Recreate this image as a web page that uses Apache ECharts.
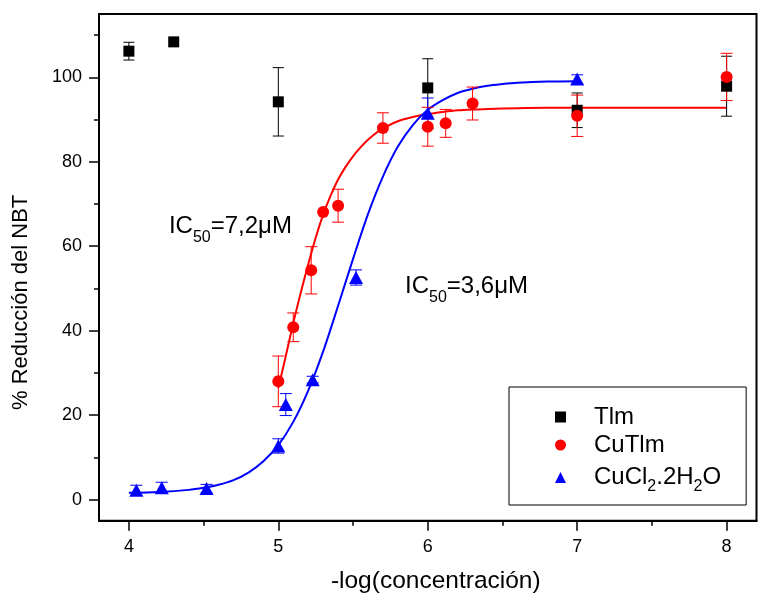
<!DOCTYPE html>
<html><head><meta charset="utf-8">
<script src="https://cdn.jsdelivr.net/npm/echarts@6/dist/echarts.min.js"></script>
<style>html,body{margin:0;padding:0;background:#fff}#c{width:760px;height:595px}</style>
</head><body><div id="c"></div>
<script>
// ---- tick labels / ticks ----
const xMajorTicks = [4, 5, 6, 7, 8];
const xMinorTicks = [4.5, 5.5, 6.5, 7.5];
const yMajorTicks = [0, 20, 40, 60, 80, 100];
const yMinorTicks = [10, 30, 50, 70, 90, 110];

// ---- series names ----
const seriesNames = ['Tlm', 'CuTlm', 'CuCl2.2H2O'];

// ---- Tlm (black squares) ----
const tlmX   = [4.0, 4.3, 5.0, 6.0, 7.0, 8.0];
const tlmY   = [106.2, 108.4, 94.2, 97.5, 92.2, 97.9];
const tlmErr = [2.1, 0, 8.1, 6.9, 4.1, 7.1];

// ---- CuTlm (red circles) ----
const cuTlmX   = [5.0, 5.1, 5.22, 5.3, 5.4, 5.7, 6.0, 6.12, 6.3, 7.0, 8.0];
const cuTlmY   = [28.0, 40.8, 54.3, 68.1, 69.6, 88.0, 88.3, 89.1, 93.8, 90.9, 100.1];
const cuTlmErr = [6.0, 3.4, 5.6, 0, 3.9, 3.6, 4.6, 3.3, 3.9, 4.9, 5.6];

// ---- CuCl2.2H2O (blue triangles) ----
const cuCl2X   = [4.05, 4.22, 4.52, 5.0, 5.05, 5.23, 5.52, 6.0, 7.0];
const cuCl2Y   = [2.2, 2.8, 2.6, 12.7, 22.5, 28.4, 52.6, 91.5, 99.6];
const cuCl2Err = [1.2, 1.3, 1.0, 1.7, 2.6, 0.8, 1.8, 3.6, 1.0];

// ---- fitted curves ----
const cuTlmFitX = [5.0, 5.05, 5.1, 5.15, 5.2, 5.25, 5.3, 5.35, 5.4, 5.45, 5.5, 5.55, 5.6, 5.65, 5.7, 5.8, 5.9, 6.0, 6.1, 6.2, 6.3, 6.4, 6.6, 6.8, 7.0, 7.5, 8.0];
const cuTlmFitY = [26.4, 34.0, 41.8, 49.0, 55.7, 62.0, 67.5, 72.0, 75.8, 78.8, 81.3, 83.4, 85.2, 86.7, 87.9, 89.6, 90.6, 91.3, 91.8, 92.2, 92.4, 92.5, 92.7, 92.8, 92.8, 92.8, 92.8];
const cuCl2FitX = [4.0, 4.2, 4.4, 4.5, 4.6, 4.7, 4.8, 4.9, 5.0, 5.1, 5.2, 5.3, 5.4, 5.5, 5.6, 5.7, 5.8, 5.9, 6.0, 6.1, 6.2, 6.3, 6.4, 6.5, 6.6, 6.8, 7.0];
const cuCl2FitY = [1.6, 1.8, 2.3, 2.8, 3.5, 4.6, 6.4, 9.1, 12.9, 18.4, 25.8, 35.1, 45.9, 57.0, 67.6, 76.5, 83.6, 88.7, 92.3, 94.6, 96.3, 97.3, 98.0, 98.4, 98.7, 99.0, 99.1];

// ---- annotations (left edge / vertical centre, in data units) ----
const ic50Labels = [
  {sub: '50', value: '=7,2μM', x: 4.268, y: 64.7},
  {sub: '50', value: '=3,6μM', x: 5.848, y: 50.5}
];

const FONT = '"Liberation Sans", Arial, sans-serif';
const zip = (xs, ys) => xs.map((x, i) => [x, ys[i]]);
const errData = (xs, ys, es) => xs.map((x, i) => [x, ys[i] - es[i], ys[i] + es[i], es[i]]).filter(d => d[3] > 0);

function errSeries(name, xs, ys, es, color, capW, z) {
  return {
    type: 'custom', name: name, xAxisIndex: 0, yAxisIndex: 0, z: z, silent: true,
    data: errData(xs, ys, es),
    encode: {x: 0, y: [1, 2]},
    renderItem: function (params, api) {
      const x = api.value(0);
      const lo = api.coord([x, api.value(1)]);
      const hi = api.coord([x, api.value(2)]);
      const h = capW / 2;
      const st = {stroke: color, lineWidth: 1};
      return {type: 'group', children: [
        {type: 'line', shape: {x1: lo[0], y1: lo[1], x2: hi[0], y2: hi[1]}, style: st},
        {type: 'line', shape: {x1: lo[0] - h, y1: lo[1], x2: lo[0] + h, y2: lo[1]}, style: st},
        {type: 'line', shape: {x1: hi[0] - h, y1: hi[1], x2: hi[0] + h, y2: hi[1]}, style: st}
      ]};
    }
  };
}

const chart = echarts.init(document.getElementById('c'), null, {renderer: 'canvas'});

const richMain = {fontSize: 24, lineHeight: 26, fontFamily: FONT, color: '#000'};
const richFirst = {fontSize: 24, lineHeight: 26, fontFamily: FONT, color: '#000', padding: [0, 0, 0, 23]};
const richSub = {fontSize: 16, lineHeight: 26, fontFamily: FONT, color: '#000', padding: [19, 0, 0, 0]};

const option = {
  animation: false,
  backgroundColor: '#fff',
  textStyle: {fontFamily: FONT},
  grid: {left: 99, top: 14, width: 657.5, height: 506.7, show: true, borderColor: '#000', borderWidth: 2,
         backgroundColor: 'transparent', containLabel: false, outerBoundsMode: 'none'},
  xAxis: [
    {
      type: 'value', min: 3.8, max: 8.2, position: 'bottom',
      name: '-log(concentración)', nameLocation: 'middle', nameGap: 48,
      nameTextStyle: {fontSize: 24.5, color: '#000', fontFamily: FONT, padding: [0, 0, 0, 16]},
      axisLine: {show: true, onZero: false, lineStyle: {color: '#000', width: 2}},
      axisTick: {show: true, customValues: xMajorTicks, length: 10, lineStyle: {color: '#000', width: 1.5}},
      axisLabel: {customValues: xMajorTicks, fontSize: 18, color: '#000', margin: 17, fontFamily: FONT},
      splitLine: {show: false}
    },
    {
      type: 'value', min: 3.8, max: 8.2, position: 'bottom', offset: 0,
      axisLine: {show: false, onZero: false},
      axisTick: {show: true, customValues: xMinorTicks, length: 5, lineStyle: {color: '#000', width: 1.5}},
      axisLabel: {show: false},
      splitLine: {show: false}
    }
  ],
  yAxis: [
    {
      type: 'value', min: -5, max: 115, position: 'left',
      name: '% Reducción del NBT', nameLocation: 'middle', nameGap: 67,
      nameTextStyle: {fontSize: 22, color: '#000', fontFamily: FONT, padding: [0, 70, 0, 0]},
      axisLine: {show: true, onZero: false, lineStyle: {color: '#000', width: 2}},
      axisTick: {show: true, customValues: yMajorTicks, length: 10, lineStyle: {color: '#000', width: 1.5}},
      axisLabel: {customValues: yMajorTicks, fontSize: 18, color: '#000', margin: 17, fontFamily: FONT},
      splitLine: {show: false}
    },
    {
      type: 'value', min: -5, max: 115, position: 'left', offset: 0,
      axisLine: {show: false, onZero: false},
      axisTick: {show: true, customValues: yMinorTicks, length: 5, lineStyle: {color: '#000', width: 1.5}},
      axisLabel: {show: false},
      splitLine: {show: false}
    }
  ],
  legend: {
    orient: 'vertical', left: 509, top: 387,
    data: [
      {name: seriesNames[0], icon: 'rect', itemStyle: {color: '#000', opacity: 1}},
      {name: seriesNames[1], icon: 'circle', itemStyle: {color: '#ff0000', opacity: 1}},
      {name: seriesNames[2], icon: 'triangle', itemStyle: {color: '#0000ff', opacity: 1}}
    ],
    itemWidth: 11, itemHeight: 11, itemGap: 2,
    padding: [17, 25, 10, 46],
    borderColor: '#000', borderWidth: 1,
    selectedMode: false,
    textStyle: {fontSize: 24, color: '#000', fontFamily: FONT, lineHeight: 26, rich: {f: richFirst, n: richMain, s: richSub}},
    formatter: function (name) {
      if (name === 'CuCl2.2H2O') return '{f|CuCl}{s|2}{n|.2H}{s|2}{n|O}';
      return '{f|' + name + '}';
    }
  },
  series: [
    {type: 'line', name: 'CuTlm fit', data: zip(cuTlmFitX, cuTlmFitY), smooth: 0.3, showSymbol: false, silent: true,
     lineStyle: {color: '#ff0000', width: 2}, itemStyle: {color: '#ff0000'}, z: 2},
    {type: 'line', name: 'CuCl2 fit', data: zip(cuCl2FitX, cuCl2FitY), smooth: 0.3, showSymbol: false, silent: true,
     lineStyle: {color: '#0000ff', width: 2}, itemStyle: {color: '#0000ff'}, z: 2},
    {type: 'scatter', name: 'Tlm', data: zip(tlmX, tlmY), symbol: 'rect', symbolSize: 11, itemStyle: {color: '#000', opacity: 1}, z: 4},
    {type: 'scatter', name: 'CuCl2.2H2O', data: zip(cuCl2X, cuCl2Y), symbol: 'triangle', symbolSize: [14, 13], itemStyle: {color: '#0000ff', opacity: 1}, z: 5},
    {type: 'scatter', name: 'CuTlm', data: zip(cuTlmX, cuTlmY), symbol: 'circle', symbolSize: 12, itemStyle: {color: '#ff0000', opacity: 1}, z: 6},
    errSeries('Tlm err', tlmX, tlmY, tlmErr, '#000', 11, 3),
    errSeries('CuCl2 err', cuCl2X, cuCl2Y, cuCl2Err, '#0000ff', 12, 3),
    errSeries('CuTlm err', cuTlmX, cuTlmY, cuTlmErr, '#ff0000', 12, 3)
  ]
};
chart.setOption(option);

// IC50 annotations positioned via the axes
const pos = ic50Labels.map(l => chart.convertToPixel({xAxisIndex: 0, yAxisIndex: 0}, [l.x, l.y]));
chart.setOption({
  graphic: ic50Labels.map((l, i) => ({
    type: 'text', x: pos[i][0], y: pos[i][1], z: 10,
    style: {
      text: '{m|IC}{s|' + l.sub + '}{m|' + l.value + '}',
      align: 'left', verticalAlign: 'middle',
      rich: {m: richMain, s: Object.assign({}, richSub, {padding: [23, 0, 0, 0]})}
    }
  }))
});
</script></body></html>
